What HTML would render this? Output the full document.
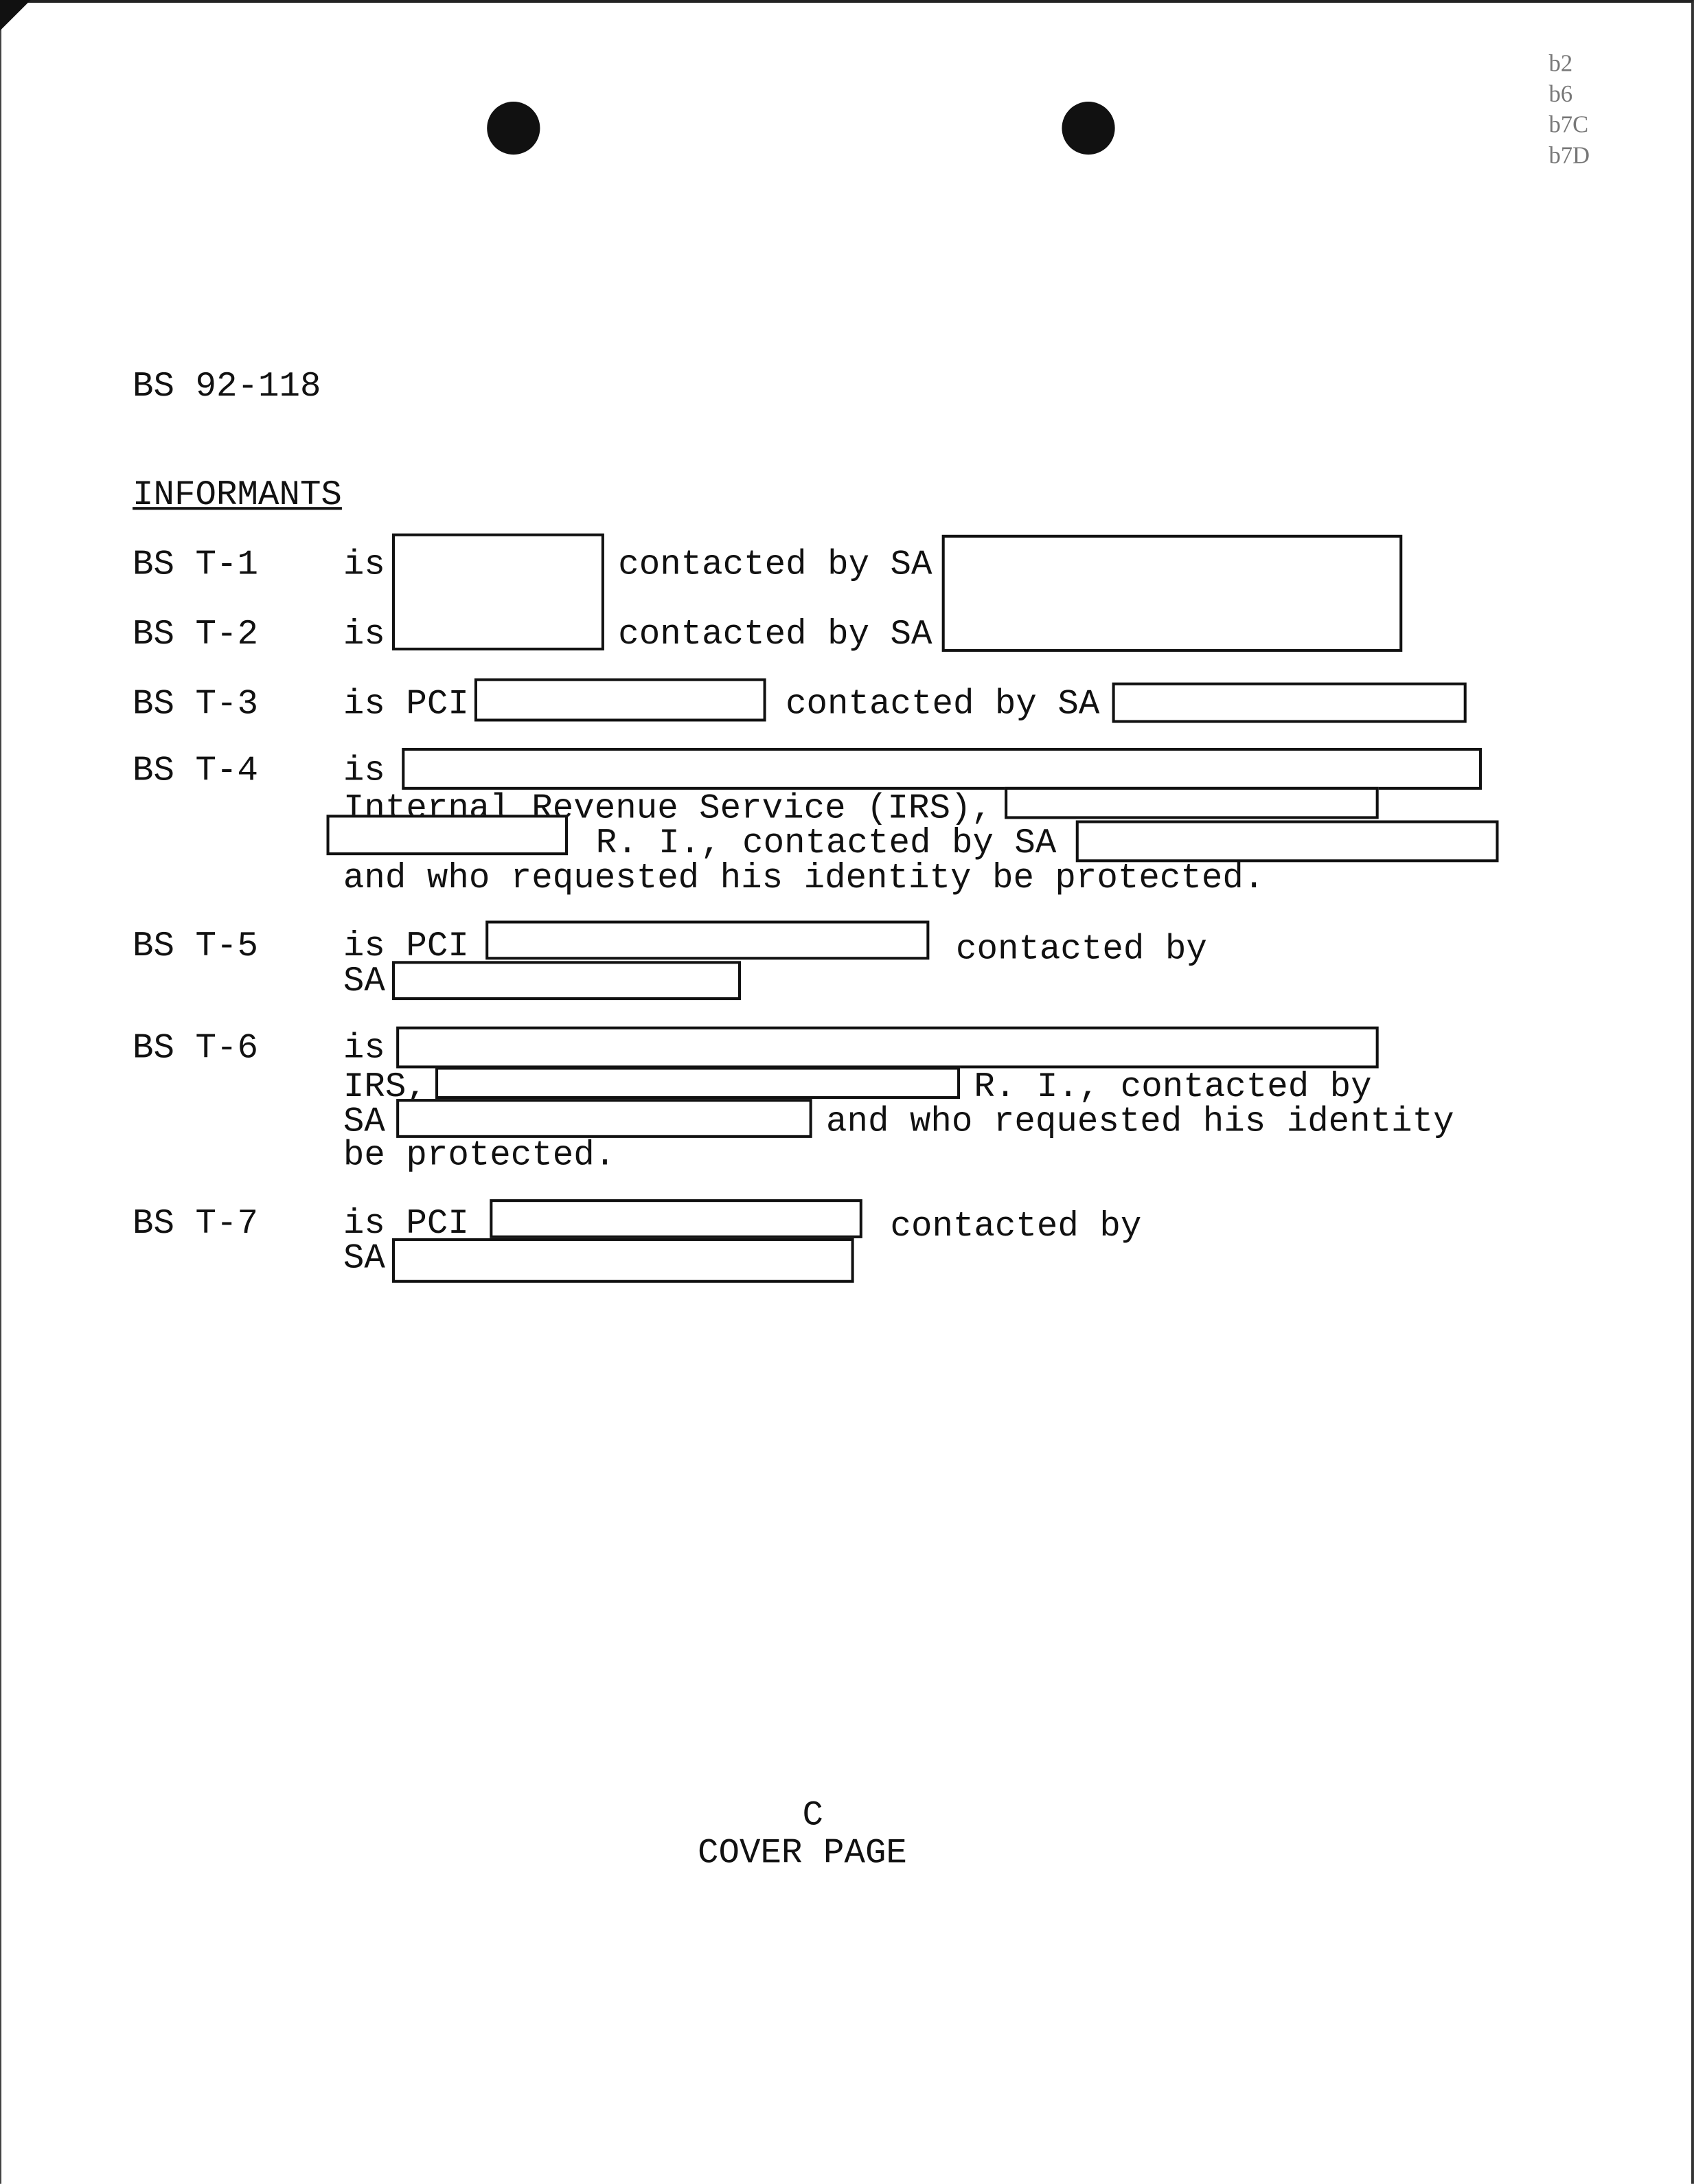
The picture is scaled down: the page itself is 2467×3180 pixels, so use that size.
<!DOCTYPE html>
<html><head><meta charset="utf-8"><style>
html,body{margin:0;padding:0;background:#fff;}
#page{position:relative;width:1214px;height:1568px;transform:scale(2.0321,2.028);transform-origin:0 0;overflow:hidden;background:#fff;}
.t{position:absolute;font-family:"Liberation Mono",monospace;font-size:25px;line-height:25px;color:#111;white-space:pre;margin-top:3px;}
.b{position:absolute;border:2px solid #111;box-sizing:border-box;background:#fff;}
.h{position:absolute;border-radius:50%;background:#111;}
.g{position:absolute;font-family:"Liberation Serif",serif;font-size:17px;color:#777;line-height:22px;}
</style></head><body><div id="page">
<div style="position:absolute;left:0;top:0;width:1214px;height:1568px;box-sizing:border-box;border-top:2px solid #222;border-right:2px solid #333;border-left:1px solid #444;"></div>
<div style="position:absolute;left:0;top:0;width:0;height:0;border-top:22px solid #111;border-right:22px solid transparent;"></div>
<div class="h" style="left:349px;top:73px;width:38px;height:38px;"></div>
<div class="h" style="left:761px;top:73px;width:38px;height:38px;"></div>
<div class="g" style="left:1110px;top:35px;">b2<br>b6<br>b7C<br>b7D</div>

<div class="t" style="left:95px;top:262px;">BS 92-118</div>
<div class="t" style="left:95px;top:340px;text-decoration:underline;">INFORMANTS</div>

<div class="t" style="left:95px;top:390px;">BS T-1</div>
<div class="t" style="left:246px;top:390px;">is</div>
<div class="b" style="left:281px;top:383px;width:152px;height:84px;"></div>
<div class="t" style="left:443px;top:390px;">contacted by SA</div>
<div class="b" style="left:675px;top:384px;width:330px;height:84px;"></div>

<div class="t" style="left:95px;top:440px;">BS T-2</div>
<div class="t" style="left:246px;top:440px;">is</div>
<div class="t" style="left:443px;top:440px;">contacted by SA</div>

<div class="t" style="left:95px;top:490px;">BS T-3</div>
<div class="t" style="left:246px;top:490px;">is PCI</div>
<div class="b" style="left:340px;top:487px;width:209px;height:31px;"></div>
<div class="t" style="left:563px;top:490px;">contacted by SA</div>
<div class="b" style="left:797px;top:490px;width:254px;height:29px;"></div>

<div class="t" style="left:95px;top:538px;">BS T-4</div>
<div class="t" style="left:246px;top:538px;">is</div>
<div class="b" style="left:288px;top:537px;width:774px;height:30px;"></div>
<div class="t" style="left:246px;top:565px;">Internal Revenue Service (IRS),</div>
<div class="b" style="left:720px;top:565px;width:268px;height:23px;"></div>
<div class="b" style="left:234px;top:585px;width:173px;height:29px;"></div>
<div class="t" style="left:427px;top:590px;">R. I., contacted by SA</div>
<div class="b" style="left:771px;top:589px;width:303px;height:30px;"></div>
<div class="t" style="left:246px;top:615px;">and who requested his identity be protected.</div>

<div class="t" style="left:95px;top:664px;">BS T-5</div>
<div class="t" style="left:246px;top:664px;">is PCI</div>
<div class="b" style="left:348px;top:661px;width:318px;height:28px;"></div>
<div class="t" style="left:685px;top:666px;">contacted by</div>
<div class="t" style="left:246px;top:689px;">SA</div>
<div class="b" style="left:281px;top:690px;width:250px;height:28px;"></div>

<div class="t" style="left:95px;top:737px;">BS T-6</div>
<div class="t" style="left:246px;top:737px;">is</div>
<div class="b" style="left:284px;top:737px;width:704px;height:30px;"></div>
<div class="t" style="left:246px;top:765px;">IRS,</div>
<div class="b" style="left:312px;top:766px;width:376px;height:23px;"></div>
<div class="t" style="left:698px;top:765px;">R. I., contacted by</div>
<div class="t" style="left:246px;top:790px;">SA</div>
<div class="b" style="left:284px;top:789px;width:298px;height:28px;"></div>
<div class="t" style="left:592px;top:790px;">and who requested his identity</div>
<div class="t" style="left:246px;top:814px;">be protected.</div>

<div class="t" style="left:95px;top:863px;">BS T-7</div>
<div class="t" style="left:246px;top:863px;">is PCI</div>
<div class="b" style="left:351px;top:861px;width:267px;height:28px;"></div>
<div class="t" style="left:638px;top:865px;">contacted by</div>
<div class="t" style="left:246px;top:888px;">SA</div>
<div class="b" style="left:281px;top:889px;width:331px;height:32px;"></div>

<div class="t" style="left:575px;top:1288px;">C</div>
<div class="t" style="left:500px;top:1315px;">COVER PAGE</div>
</div></body></html>
